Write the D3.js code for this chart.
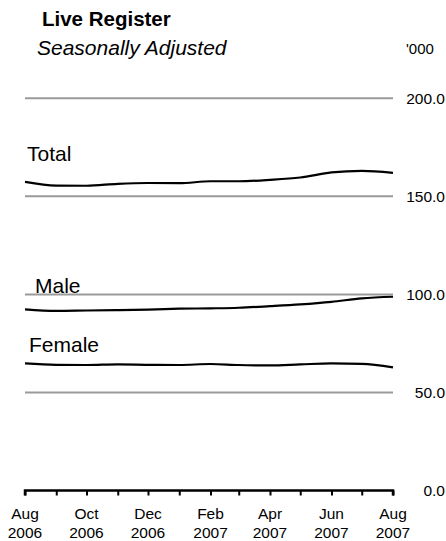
<!DOCTYPE html>
<html>
<head>
<meta charset="utf-8">
<script src="https://cdn.jsdelivr.net/npm/d3@7"></script>
<style>
  body { margin: 0; background: #fff; }
  text { font-family: "Liberation Sans", Arial, sans-serif; fill: #000; }
</style>
</head>
<body>
<div id="chart"></div>
<script>
// months Aug 2006 .. Aug 2007
var months = ["2006-08", "2006-09", "2006-10", "2006-11", "2006-12", "2007-01", "2007-02",
  "2007-03", "2007-04", "2007-05", "2007-06", "2007-07", "2007-08"];

// '000, seasonally adjusted
var total = [157.4, 155.5, 155.4, 156.4, 156.8, 156.7, 157.7, 157.7, 158.4, 159.6, 162.2, 163.0, 162.0];
var male = [92.4, 91.6, 91.8, 92.0, 92.2, 92.7, 92.9, 93.2, 94.0, 94.9, 96.2, 98.0, 98.8];
var female = [64.8, 64.1, 64.0, 64.3, 64.1, 64.0, 64.5, 64.0, 63.8, 64.3, 64.8, 64.6, 62.8];

var yTicks = [0, 50, 100, 150, 200];
var seriesNames = ["Total", "Male", "Female"];

var width = 446,
  height = 541;

var parse = d3.timeParse("%Y-%m");
var dates = months.map(parse);

var x = d3.scaleTime()
  .domain(d3.extent(dates))
  .range([25, 393]);

var y = d3.scaleLinear()
  .domain([0, 200])
  .range([490.5, 98.3]);

var svg = d3.select("#chart")
  .append("svg")
  .attr("width", width)
  .attr("height", height);

// titles
svg.append("text")
  .attr("x", 42)
  .attr("y", 26)
  .attr("font-size", "20.5px")
  .attr("font-weight", "bold")
  .text("Live Register");

svg.append("text")
  .attr("x", 37)
  .attr("y", 55)
  .attr("font-size", "21px")
  .attr("font-style", "italic")
  .text("Seasonally Adjusted");

svg.append("text")
  .attr("x", 406)
  .attr("y", 54)
  .attr("font-size", "15px")
  .text("'000");

// series labels (drawn under the gridlines)
var labelPos = [
  { x: 27, y: 161 },
  { x: 35, y: 293 },
  { x: 29, y: 352 },
];
svg.selectAll("text.series-label")
  .data(seriesNames)
  .enter()
  .append("text")
  .attr("class", "series-label")
  .attr("x", (d, i) => labelPos[i].x)
  .attr("y", (d, i) => labelPos[i].y)
  .attr("font-size", "21px")
  .text(d => d);

// gridlines + right labels
var grid = svg.append("g");
grid.selectAll("line")
  .data(yTicks.filter(d => d > 0))
  .enter()
  .append("line")
  .attr("x1", x.range()[0])
  .attr("x2", x.range()[1])
  .attr("y1", d => y(d))
  .attr("y2", d => y(d))
  .attr("stroke", "#9a9a9a")
  .attr("stroke-width", 2);

grid.selectAll("text")
  .data(yTicks)
  .enter()
  .append("text")
  .attr("x", 445)
  .attr("y", d => y(d))
  .attr("dy", "0.35em")
  .attr("text-anchor", "end")
  .attr("font-size", "15.5px")
  .text(d => d3.format(".1f")(d));

// x axis
var xAxis = d3.axisBottom(x)
  .ticks(d3.timeMonth.every(1))
  .tickSize(5)
  .tickFormat("");

var axisG = svg.append("g")
  .attr("transform", `translate(0,${y(0)})`)
  .call(xAxis);
axisG.select(".domain")
  .attr("stroke", "#000")
  .attr("stroke-width", 2.5)
  .attr("d", `M${x.range()[0]},5V0H${x.range()[1]}V5`);
axisG.selectAll(".tick line")
  .attr("stroke", "#000")
  .attr("stroke-width", 2);

var labelDates = dates.filter((d, i) => i % 2 === 0);
var tickLabels = svg.append("g")
  .selectAll("text")
  .data(labelDates)
  .enter()
  .append("text")
  .attr("x", d => x(d))
  .attr("text-anchor", "middle")
  .attr("font-size", "15.5px");
tickLabels.append("tspan")
  .attr("x", d => x(d))
  .attr("y", 519)
  .text(d => d3.timeFormat("%b")(d));
tickLabels.append("tspan")
  .attr("x", d => x(d))
  .attr("y", 538)
  .text(d => d3.timeFormat("%Y")(d));

// lines
var line = d3.line()
  .x((d, i) => x(dates[i]))
  .y(d => y(d))
  .curve(d3.curveMonotoneX);

svg.append("g")
  .selectAll("path")
  .data([total, male, female])
  .enter()
  .append("path")
  .attr("fill", "none")
  .attr("stroke", "#000")
  .attr("stroke-width", 2.2)
  .attr("d", line);
</script>
</body>
</html>
